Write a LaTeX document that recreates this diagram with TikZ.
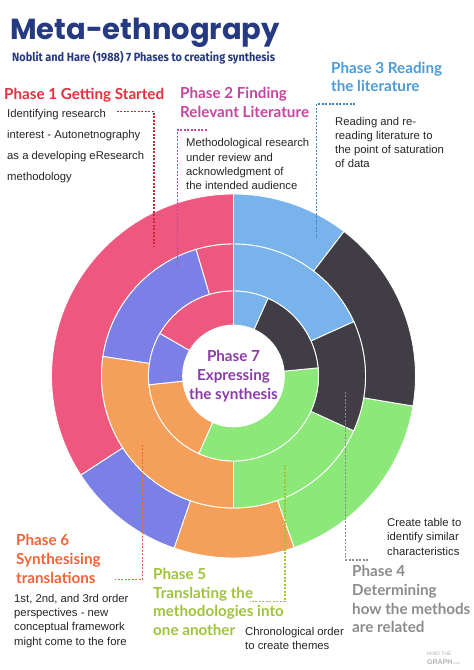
\documentclass[tikz,border=0pt]{standalone}
\usepackage{fontspec}
\setmainfont{Liberation Sans}
\newfontfamily\headfont{Lato}
\newfontfamily\titlefont{Poppins}
\newfontfamily\subfont[FakeStretch=0.91]{Fira Sans}
\usetikzlibrary{positioning}

\definecolor{navy}{RGB}{38,58,130}
\definecolor{pinkseg}{RGB}{239,88,126}
\definecolor{purpseg}{RGB}{123,128,230}
\definecolor{orngseg}{RGB}{245,160,90}
\definecolor{grenseg}{RGB}{140,232,120}
\definecolor{darkseg}{RGB}{64,62,68}
\definecolor{lbluseg}{RGB}{120,180,235}
\definecolor{ph1}{RGB}{230,48,62}
\definecolor{ph2}{RGB}{196,70,160}
\definecolor{ph3}{RGB}{75,155,215}
\definecolor{ph4}{RGB}{140,140,140}
\definecolor{ph5}{RGB}{160,195,60}
\definecolor{ph6}{RGB}{240,100,55}
\definecolor{ph7}{RGB}{140,60,170}
\definecolor{logo}{RGB}{180,180,180}

\begin{document}
\begin{tikzpicture}[
  x=1pt, y=1pt,
  headtext/.style={anchor=base west, inner sep=0pt, align=left, font=\headfont\bfseries\fontsize{15.2}{18.5}\selectfont},
  desctext/.style={anchor=base west, inner sep=0pt, align=left, text=black!85, font=\fontsize{11.3}{14.2}\selectfont},
  lead/.style={dash pattern=on 2pt off 1.5pt, line width=1.1pt},
  seg/.style={draw=white, line width=0.9pt}
]
\useasboundingbox[fill=white] (0,0) rectangle (474,670);

% title
\node[anchor=base west, inner sep=0pt, text=navy, font=\titlefont\bfseries\fontsize{29}{29}\selectfont] (title) at (10,630) {Meta-ethnograpy};
\node[anchor=base west, inner sep=0pt, text=navy, font=\subfont\bfseries\fontsize{12}{12}\selectfont] (subtitle) at (12,608.3) {Noblit and Hare (1988) 7 Phases to creating synthesis};

% the wheel: outer, middle and inner ring
\coordinate (c) at (233.5,294);
\foreach \ra/\rb/\aa/\ab/\col in {
  132/182/52.6/90/lbluseg, 132/182/90/213/pinkseg, 132/182/213/251/purpseg,
  132/182/251/289.5/orngseg, 132/182/289.5/350.5/grenseg, 132/182/-9.5/52.6/darkseg,
  85/132/24.3/90/lbluseg, 85/132/90/106.5/pinkseg, 85/132/106.5/171.5/purpseg,
  85/132/171.5/270/orngseg, 85/132/270/335.5/grenseg, 85/132/-24.5/24.3/darkseg,
  44/85/66/90/lbluseg, 44/85/90/150/pinkseg, 44/85/150/186/purpseg,
  44/85/186/246/orngseg, 44/85/246/365.5/grenseg, 44/85/5.5/66/darkseg}
  \fill[\col, seg, shift={(c)}] (\aa:\rb) arc[start angle=\aa, end angle=\ab, radius=\rb]
    -- (\ab:\ra) arc[start angle=\ab, end angle=\aa, radius=\ra] -- cycle;
\node[circle, fill=white, minimum size=88pt, inner sep=0pt, align=center, text=ph7,
  font=\headfont\bfseries\fontsize{15.2}{19}\selectfont] (p7) at (c) {Phase 7\\Expressing\\the synthesis};

% phases (base anchor sits on the last line)
\node[headtext, text=ph1] (h1) at (4,570) {Phase 1 Getting Started};
\node[desctext, font=\fontsize{11.3}{21.2}\selectfont] (d1) at (7,489.1) {Identifying research\\interest - Autonetnography\\as a developing eResearch\\methodology};
\node[headtext, text=ph2] (h2) at (180,552.5) {Phase 2 Finding\\Relevant Literature};
\node[desctext, font=\fontsize{11.3}{14.4}\selectfont] (d2) at (186,480.1) {Methodological research\\under review and\\acknowledgment of\\the intended audience};
\node[headtext, text=ph3] (h3) at (331,578) {Phase 3 Reading\\the literature};
\node[desctext, font=\fontsize{11.3}{13.9}\selectfont] (d3) at (335,502.6) {Reading and re-\\reading literature to\\the point of saturation\\of data};
\node[headtext, text=ph4] (h4) at (352,37.5) {Phase 4\\Determining\\how the methods\\are related};
\node[desctext] (d4) at (387,114.9) {Create table to\\identify similar\\characteristics};
\node[headtext, text=ph5, font=\headfont\bfseries\fontsize{15.2}{18.7}\selectfont] (h5) at (153,34.6) {Phase 5\\Translating the\\methodologies into\\one another};
\node[desctext, font=\fontsize{11.3}{14}\selectfont] (d5) at (245,20) {Chronological order\\to create themes};
\node[headtext, text=ph6, font=\headfont\bfseries\fontsize{15.2}{19}\selectfont] (h6) at (16,86) {Phase 6\\Synthesising\\translations};
\node[desctext, font=\fontsize{11.3}{14.3}\selectfont] (d6) at (14,24.8) {1st, 2nd, and 3rd order\\perspectives - new\\conceptual framework\\might come to the fore};

% dashed leaders
\coordinate (l1a) at (116.7,558.3); \coordinate (l1b) at (154,423.3);
\coordinate (l2a) at (206.7,540);   \coordinate (l2b) at (177.7,401.7);
\coordinate (l3a) at (355,566);     \coordinate (l3b) at (316.7,431.7);
\coordinate (l4a) at (345.7,278.3); \coordinate (l4b) at (368.3,110);
\coordinate (l5a) at (285,205);     \coordinate (l5b) at (250,68.3);
\coordinate (l6a) at (142.7,225);   \coordinate (l6b) at (115,90.7);
\draw[lead, ph1!85!black] (l1a) -| (l1b);
\draw[lead, ph2] (l2a) -| (l2b);
\draw[lead, ph3!85!black] (l3a) -| (l3b);
\draw[lead, ph4] (l4a) |- (l4b);
\draw[lead, ph5] (l5a) |- (l5b);
\draw[lead, ph6] (l6a) |- (l6b);

% logo
\node[anchor=base west, inner sep=0pt, text=logo, font=\fontsize{5}{5}\selectfont] (mind) at (427,14.5) {MIND THE};
\node[anchor=base west, inner sep=0pt, text=logo, font=\bfseries\fontsize{7}{7}\selectfont] (graph) at (427,5.5) {GRAPH{\mdseries\fontsize{3.5}{4}\selectfont.com}};
\end{tikzpicture}
\end{document}
